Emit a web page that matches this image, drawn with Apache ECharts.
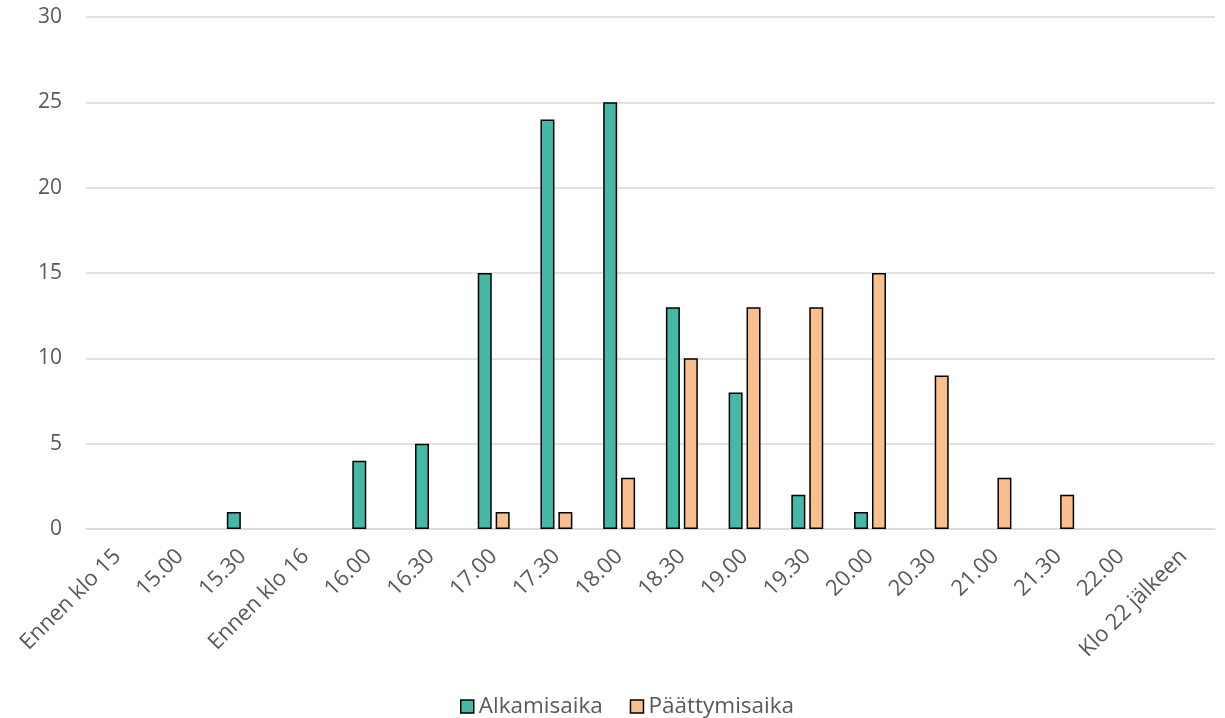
<!DOCTYPE html>
<html>
<head>
<meta charset="utf-8">
<script src="https://cdn.jsdelivr.net/npm/echarts@6/dist/echarts.min.js"></script>
<style>
html,body{margin:0;padding:0;background:#fff;}
#chart{width:1225px;height:718px;}
</style>
</head>
<body>
<div id="chart"></div>
<script>
const categories = ["Ennen klo 15","15.00","15.30","Ennen klo 16","16.00","16.30","17.00","17.30","18.00","18.30","19.00","19.30","20.00","20.30","21.00","21.30","22.00","Klo 22 jälkeen"];
const alkamisaika = [0,0,1,0,4,5,15,24,25,13,8,2,1,0,0,0,0,0];
const paattymisaika = [0,0,0,0,0,0,1,1,3,10,13,13,15,9,3,2,0,0];
const seriesNames = ["Alkamisaika","Päättymisaika"];

// zero values draw no bar
const toBars = arr => arr.map(v => v === 0 ? '-' : v);

const chart = echarts.init(document.getElementById('chart'), null, {renderer:'canvas'});
const font = '"Open Sans", "Liberation Sans", sans-serif';
chart.setOption({
  animation:false,
  textStyle:{fontFamily:font},
  grid:{left:86,right:10,top:17,bottom:189,containLabel:false},
  legend:{
    top:690,left:455,itemWidth:13,itemHeight:13,itemGap:27,
    icon:'rect',
    itemStyle:{borderColor:'#000',borderWidth:1.5},
    textStyle:{color:'#595959',fontSize:22.5,fontFamily:font},
    data:seriesNames
  },
  xAxis:{
    type:'category',data:categories,
    axisLine:{show:true,lineStyle:{color:'#d9d9d9',width:1.5}},
    axisTick:{show:false},
    axisLabel:{rotate:45,color:'#595959',fontSize:22,interval:0,margin:24,fontFamily:font}
  },
  yAxis:{
    type:'value',min:0,max:30,interval:5,
    axisLine:{show:false},axisTick:{show:false},
    splitLine:{lineStyle:{color:'#d9d9d9',width:1.5}},
    axisLabel:{color:'#595959',fontSize:21,margin:24,fontFamily:font}
  },
  series:[
    {name:seriesNames[0],type:'bar',data:toBars(alkamisaika),barWidth:14,barGap:'28%',
     itemStyle:{color:'#45B9A6',borderColor:'#000',borderWidth:1.5}},
    {name:seriesNames[1],type:'bar',data:toBars(paattymisaika),barWidth:14,
     itemStyle:{color:'#F9C08E',borderColor:'#000',borderWidth:1.5}}
  ]
});
</script>
</body>
</html>
